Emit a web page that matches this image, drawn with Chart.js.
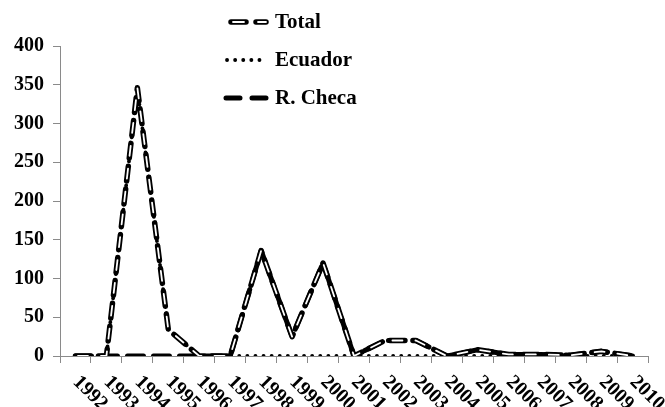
<!DOCTYPE html>
<html>
<head>
<meta charset="utf-8">
<script src="https://cdn.jsdelivr.net/npm/chart.js@4/dist/chart.umd.min.js"></script>
<style>
html,body{margin:0;padding:0;background:#fff;}
#wrap{width:665px;height:407px;position:relative;}
</style>
</head>
<body>
<div id="wrap"><canvas id="c" width="665" height="407"></canvas></div>
<script>
const years = ['1992','1993','1994','1995','1996','1997','1998','1999','2000','2001','2002','2003','2004','2005','2006','2007','2008','2009','2010'];
const total   = [0, 0, 346, 34, 0, 0, 136, 25, 120, 0, 20, 20, 0, 8, 2, 2, 1, 6, 0];
const ecuador = [0, 0, 345, 34, 0, 0, 0, 0, 0, 0, 0, 0, 0, 0, 0, 0, 0, 0, 0];
const checa   = [0, 0, 0, 0, 0, 0, 136, 25, 120, 0, 20, 20, 0, 8, 2, 2, 1, 6, 0];
const yTicks  = [0, 50, 100, 150, 200, 250, 300, 350, 400];
const seriesNames = ['Total', 'Ecuador', 'R. Checa'];

const FONT = '"Liberation Serif", "Times New Roman", serif';
const AXIS = '#8a8a8a';

const legendPlugin = {
  id: 'customLegendAndLabels',
  afterDraw(chart) {
    const ctx = chart.ctx;
    const xs = chart.scales.x;
    // rotated x labels (descending to the right)
    ctx.save();
    ctx.font = 'bold 20px ' + FONT;
    ctx.fillStyle = '#000';
    ctx.textAlign = 'left';
    ctx.textBaseline = 'middle';
    years.forEach((y, i) => {
      const px = xs.getPixelForValue(i);
      ctx.save();
      ctx.translate(px + 0.5, 379);
      ctx.rotate(Math.PI / 4);
      ctx.fillText(y, 0, 0);
      ctx.restore();
    });
    ctx.restore();

    // legend
    const rows = [22, 60, 98];
    ctx.save();
    ctx.lineCap = 'round';
    // Total
    ctx.beginPath(); ctx.moveTo(231, rows[0]); ctx.lineTo(266, rows[0]);
    ctx.strokeStyle = '#000'; ctx.lineWidth = 5.5; ctx.setLineDash([15, 10]); ctx.lineDashOffset = 0; ctx.stroke();
    ctx.beginPath(); ctx.moveTo(231, rows[0]); ctx.lineTo(266, rows[0]);
    ctx.strokeStyle = '#fff'; ctx.lineWidth = 1.8; ctx.setLineDash([11, 14]); ctx.lineDashOffset = -2; ctx.stroke();
    // Ecuador
    ctx.beginPath(); ctx.moveTo(227, rows[1]); ctx.lineTo(267, rows[1]);
    ctx.strokeStyle = '#000'; ctx.lineWidth = 3.8; ctx.setLineDash([0.1, 8]); ctx.lineDashOffset = 0; ctx.stroke();
    // R. Checa
    ctx.beginPath(); ctx.moveTo(226, rows[2]); ctx.lineTo(268, rows[2]);
    ctx.strokeStyle = '#000'; ctx.lineWidth = 5; ctx.setLineDash([14, 12]); ctx.lineDashOffset = 0; ctx.stroke();
    ctx.setLineDash([]);
    ctx.font = 'bold 21px ' + FONT;
    ctx.fillStyle = '#000';
    ctx.textAlign = 'left';
    ctx.textBaseline = 'middle';
    seriesNames.forEach((n, i) => ctx.fillText(n, 275, rows[i] + 1));
    ctx.restore();
  }
};

new Chart(document.getElementById('c'), {
  type: 'line',
  data: {
    labels: years,
    datasets: [
      { label: 'Total', data: total, borderColor: '#fff', borderWidth: 1.8,
        borderDash: [10, 13], borderDashOffset: -2.5, borderCapStyle: 'round', order: 0 },
      { label: 'Total-outline', data: total, borderColor: '#000', borderWidth: 5.5,
        borderDash: [15, 8], borderCapStyle: 'round', order: 1 },
      { label: 'Ecuador', data: ecuador, borderColor: '#000', borderWidth: 3.8,
        borderDash: [0.1, 8], borderCapStyle: 'round', order: 2 },
      { label: 'R. Checa', data: checa, borderColor: '#000', borderWidth: 5,
        borderDash: [16, 10], borderCapStyle: 'round', order: 3 }
    ]
  },
  options: {
    responsive: false,
    animation: false,
    devicePixelRatio: 1,
    layout: { padding: { left: 0, right: 17, top: 46, bottom: 0 } },
    elements: { point: { radius: 0, hoverRadius: 0 }, line: { tension: 0, fill: false, borderJoinStyle: 'round' } },
    plugins: { legend: { display: false }, tooltip: { enabled: false } },
    scales: {
      x: {
        type: 'category',
        offset: true,
        grid: { display: true, offset: true, drawOnChartArea: false, drawTicks: true, tickLength: 7, color: AXIS, lineWidth: 1 },
        border: { display: true, color: AXIS, width: 1 },
        ticks: { display: false },
        afterFit(scale) { scale.height = 51; }
      },
      y: {
        min: 0, max: 400,
        afterBuildTicks(scale) { scale.ticks = yTicks.map(v => ({ value: v })); },
        grid: { display: true, drawOnChartArea: false, drawTicks: true, tickLength: 7, color: AXIS, lineWidth: 1 },
        border: { display: true, color: AXIS, width: 1 },
        ticks: { color: '#000', padding: 9, font: { family: FONT, size: 20, weight: 'bold' } },
        afterFit(scale) { scale.width = 60; }
      }
    }
  },
  plugins: [legendPlugin]
});
</script>
</body>
</html>
